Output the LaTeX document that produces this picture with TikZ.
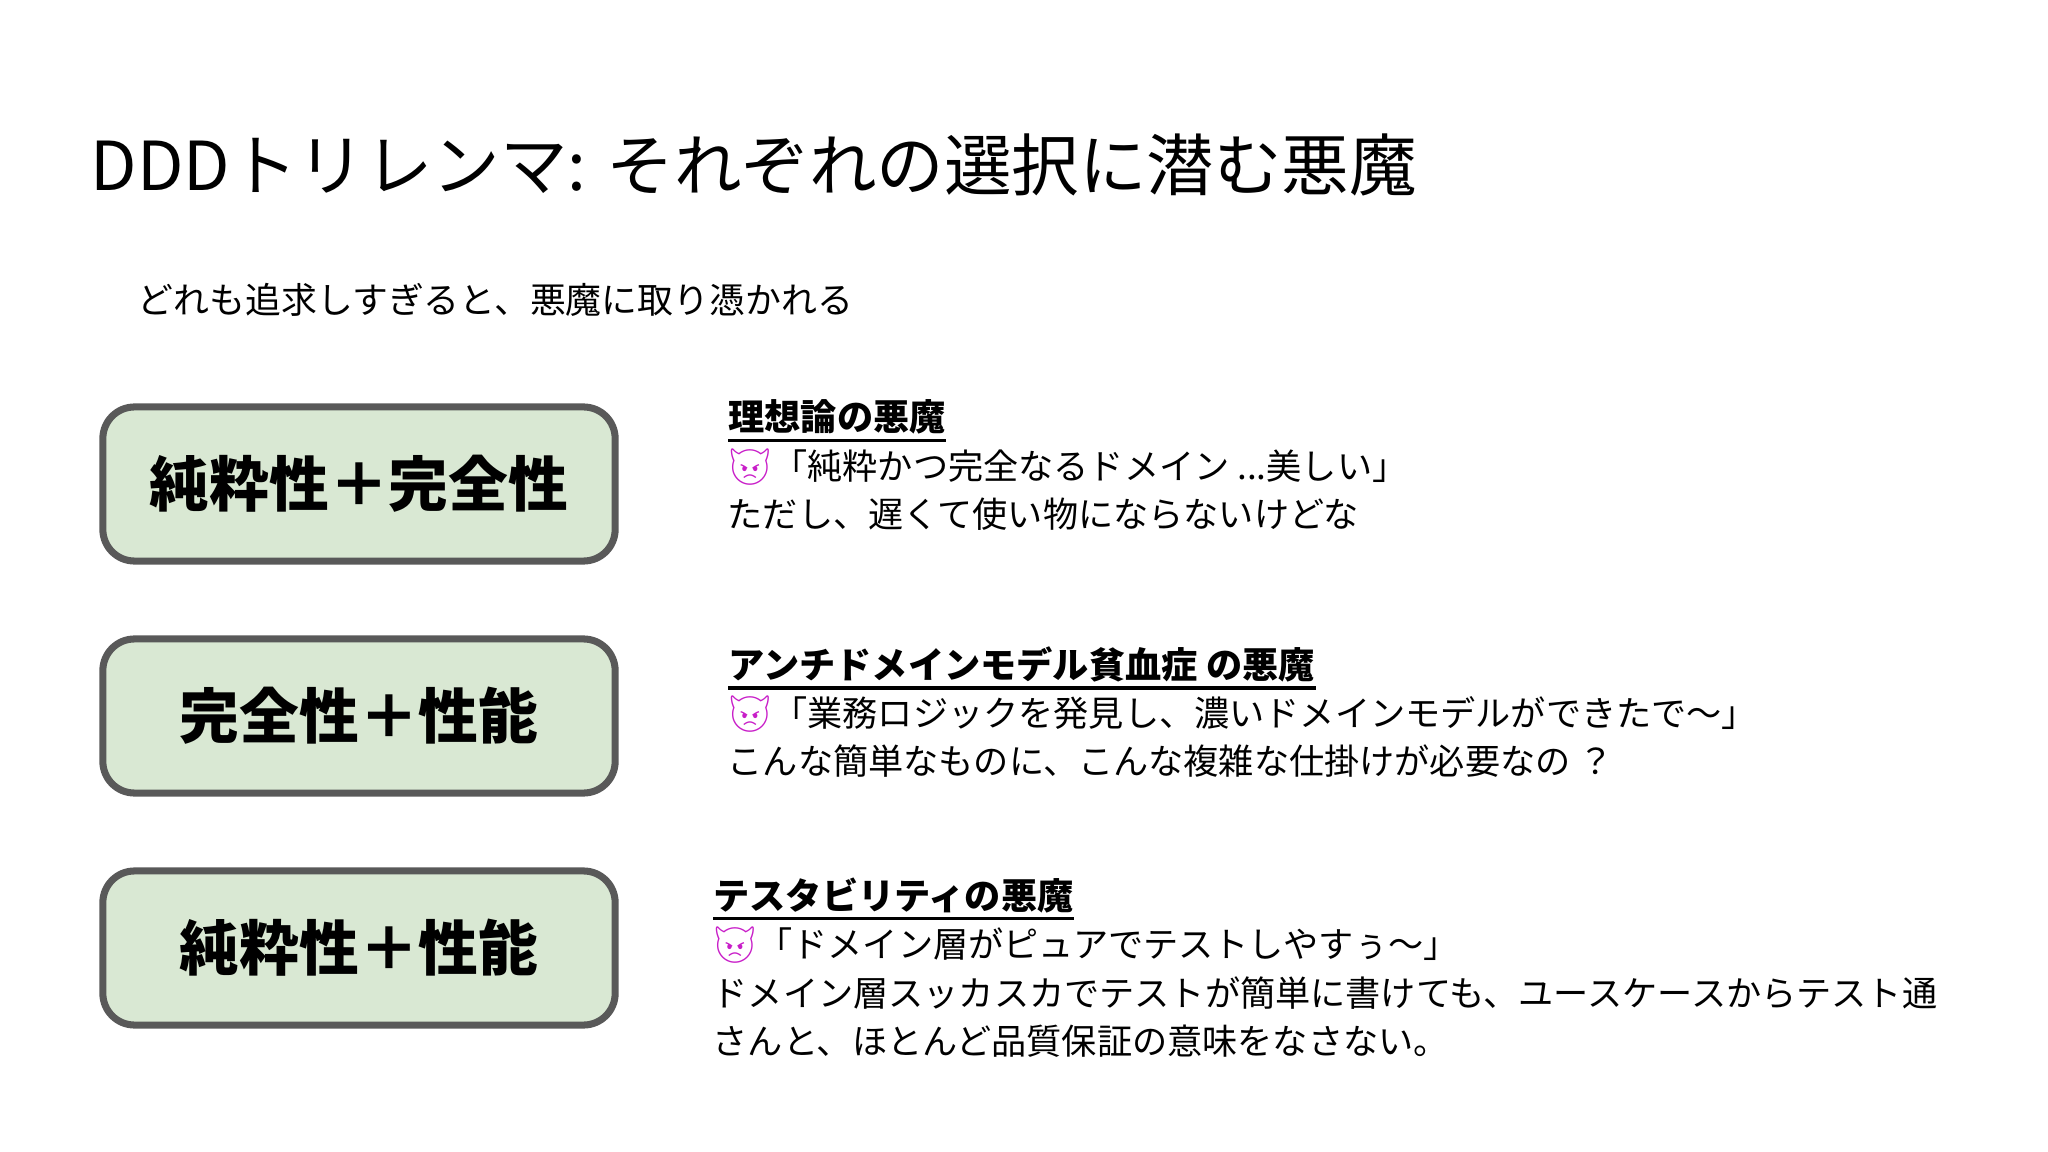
\documentclass[tikz,border=0pt]{standalone}
\usepackage{fontspec}
\setmainfont{Noto Sans CJK JP}
\newfontfamily\emo{Noto Emoji}
\definecolor{boxfill}{HTML}{D9E8D3}
\definecolor{boxline}{HTML}{595959}
\definecolor{devil}{HTML}{C81EC8}
\newcommand{\dev}{{\emo\color{devil}\char"1F47F}}
\newcommand{\ul}[1]{\tikz[baseline=(u.base)]{\node[inner sep=0pt](u){#1};\fill ([yshift=-2.2pt]u.base west) rectangle ([yshift=-3.2pt]u.base east);}}
\begin{document}
\begin{tikzpicture}[x=0.01cm,y=-0.01cm,
  pill/.style={draw=boxline,line width=2pt,fill=boxfill,rounded corners=9pt,minimum width=5.12cm,minimum height=1.54cm,font=\fontsize{17}{20}\selectfont\bfseries},
  body/.style={anchor=west,inner sep=0pt,font=\fontsize{10}{12}\selectfont},
  head/.style={body,font=\fontsize{10.3}{12}\selectfont\bfseries}]
\useasboundingbox (0,0) rectangle (2048,1152);
\node[anchor=west,inner sep=0pt,font=\fontsize{19.2}{22}\selectfont] (title) at (90,165) {DDDトリレンマ: それぞれの選択に潜む悪魔};
\node[anchor=west,inner sep=0pt,font=\fontsize{10.2}{12}\selectfont] (sub) at (137,300) {どれも追求しすぎると、悪魔に取り憑かれる};
\node[pill] (b1) at (359,484) {純粋性＋完全性};
\node[pill] (b2) at (359,716) {完全性＋性能};
\node[pill] (b3) at (359,948) {純粋性＋性能};
\node[head] (h1) at (727,421) {\ul{理想論の悪魔}};
\node[body] (l1a) at (727,467) {\dev「純粋かつ完全なるドメイン ...美しい」};
\node[body] (l1b) at (727,514) {ただし、遅くて使い物にならないけどな};
\node[head] (h2) at (727,668) {\ul{アンチドメインモデル貧血症 の悪魔}};
\node[body] (l2a) at (727,714) {\dev「業務ロジックを発見し、濃いドメインモデルができたで〜」};
\node[body] (l2b) at (727,761) {こんな簡単なものに、こんな複雑な仕掛けが必要なの ？};
\node[head] (h3) at (712,899) {\ul{テスタビリティの悪魔}};
\node[body] (l3a) at (712,945) {\dev「ドメイン層がピュアでテストしやすぅ〜」};
\node[body] (l3b) at (712,993) {ドメイン層スッカスカでテストが簡単に書けても、ユースケースからテスト通};
\node[body] (l3c) at (712,1041) {さんと、ほとんど品質保証の意味をなさない。};
\end{tikzpicture}
\end{document}
